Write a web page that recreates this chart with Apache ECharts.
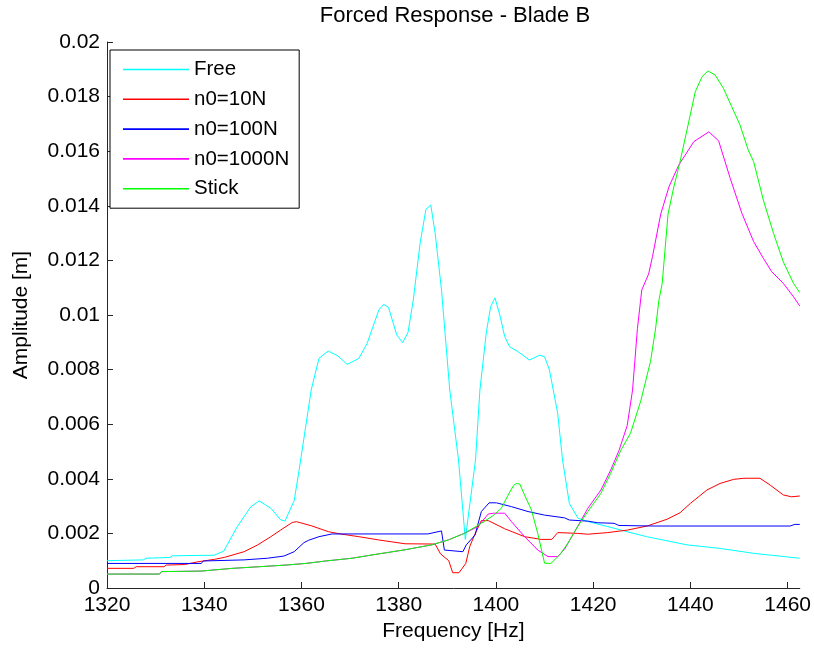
<!DOCTYPE html>
<html>
<head>
<meta charset="utf-8">
<title>Forced Response - Blade B</title>
<script src="https://cdn.jsdelivr.net/npm/echarts@6/dist/echarts.min.js"></script>
<style>
  html, body { margin: 0; padding: 0; background: #fff; }
  #chart { width: 814px; height: 648px; }
</style>
</head>
<body>
<div id="chart"></div>
<script>
// Frequency sweep of blade B: amplitude [m] against excitation frequency [Hz]
const xTicks = [1320, 1340, 1360, 1380, 1400, 1420, 1440, 1460];
const yTicks = [0, 0.002, 0.004, 0.006, 0.008, 0.01, 0.012, 0.014, 0.016, 0.018, 0.02];
const seriesNames = ['Free', 'n0=10N', 'n0=100N', 'n0=1000N', 'Stick'];
const seriesColors = ['#00ffff', '#ff0000', '#0000ff', '#ff00ff', '#00ff00'];

const freeResp = [
  [1320, 0.00100], [1327.5, 0.00103], [1328, 0.00109], [1333, 0.00112], [1333.5, 0.00118],
  [1342, 0.00120], [1344, 0.00135], [1346.8, 0.00225], [1349.6, 0.00298], [1351.3, 0.00319],
  [1353.7, 0.00292], [1355.7, 0.00250], [1356.6, 0.00245], [1358.5, 0.00320], [1359.5, 0.00430],
  [1362, 0.00725], [1363.6, 0.00841], [1365.5, 0.00868], [1367.5, 0.00850], [1369.4, 0.00819],
  [1371.8, 0.00841], [1373.5, 0.00896], [1375.9, 0.01018], [1376.9, 0.01039], [1377.9, 0.01028],
  [1379.6, 0.00927], [1380.8, 0.00899], [1381.9, 0.00935], [1383.0, 0.01055], [1384.4, 0.01263],
  [1385.6, 0.01387], [1386.6, 0.01403], [1387.5, 0.01299], [1388.8, 0.01092], [1390.5, 0.00725],
  [1392.3, 0.00469], [1393.7, 0.00178], [1395.8, 0.00469], [1396.7, 0.00725], [1398.0, 0.00933],
  [1398.9, 0.01030], [1399.8, 0.01063], [1400.8, 0.01000], [1401.8, 0.00921], [1402.8, 0.00884],
  [1404.5, 0.00866], [1406.9, 0.00835], [1409.0, 0.00853], [1410.0, 0.00847], [1411.0, 0.00799],
  [1412.7, 0.00640], [1413.7, 0.00469], [1415.1, 0.00310], [1416.9, 0.00255], [1419, 0.00243],
  [1423, 0.00225], [1427, 0.00206], [1431, 0.00188], [1439.3, 0.00158], [1446.1, 0.00145],
  [1453, 0.00127], [1462.5, 0.00109]
];

const resp10N = [
  [1320, 0.00072], [1325.5, 0.00072], [1326, 0.00078], [1331.7, 0.00078], [1332.2, 0.00084],
  [1336, 0.00086], [1338.7, 0.00096], [1342.1, 0.00105], [1344.1, 0.00112], [1348.2, 0.00133],
  [1351.0, 0.00158], [1353.7, 0.00188], [1355.7, 0.00212], [1358.1, 0.00240], [1359.0, 0.00243],
  [1362, 0.00228], [1365.6, 0.00206], [1368, 0.00198], [1371.8, 0.00188], [1375.9, 0.00176],
  [1381.3, 0.00162], [1387.5, 0.00161], [1388.6, 0.00125], [1390.3, 0.00100], [1391.1, 0.00056],
  [1392.4, 0.00056], [1393.8, 0.00090], [1394.6, 0.00151], [1395.5, 0.00190], [1397.0, 0.00247],
  [1398.4, 0.00247], [1401.8, 0.00217], [1405.9, 0.00188], [1409.3, 0.00178], [1411.5, 0.00178],
  [1412.7, 0.00203], [1416.8, 0.00200], [1418.9, 0.00197], [1423, 0.00203], [1427, 0.00212],
  [1431.1, 0.00227], [1435.2, 0.00252], [1437.9, 0.00276], [1440, 0.00310], [1443.4, 0.00359],
  [1446.1, 0.00383], [1448.9, 0.00398], [1451, 0.00402], [1454.3, 0.00402], [1456.4, 0.00377],
  [1459.1, 0.00341], [1460.8, 0.00334], [1462.5, 0.00337]
];

const resp100N = [
  [1320, 0.00090], [1339.4, 0.00090], [1339.8, 0.00099], [1348.2, 0.00103], [1353, 0.00109],
  [1356.4, 0.00117], [1358.5, 0.00133], [1360.5, 0.00166], [1361.5, 0.00175], [1363.6, 0.00188],
  [1366.3, 0.00198], [1386, 0.00198], [1388.8, 0.00209], [1389.4, 0.00139], [1393.2, 0.00133],
  [1393.9, 0.00158], [1395.7, 0.00194], [1397.0, 0.00280], [1398.6, 0.00312], [1400.1, 0.00312],
  [1403.2, 0.00298], [1406.6, 0.00280], [1410.0, 0.00267], [1414.1, 0.00257], [1415.1, 0.00249],
  [1418.9, 0.00245], [1420.9, 0.00239], [1424.3, 0.00237], [1425.3, 0.00229], [1432.5, 0.00227],
  [1460.5, 0.00227], [1461.5, 0.00233], [1462.5, 0.00233]
];

const resp1000N = [
  [1320, 0.00051], [1330.8, 0.00051], [1331.2, 0.00060], [1339.4, 0.00062], [1339.8, 0.00067],
  [1345.8, 0.00072], [1351.3, 0.00078], [1356.8, 0.00084], [1360.9, 0.00090], [1365, 0.00099],
  [1370.4, 0.00109], [1374.5, 0.00121], [1381.3, 0.00140], [1386.8, 0.00158], [1390.2, 0.00176],
  [1393.6, 0.00201], [1396.3, 0.00225], [1398.4, 0.00271], [1399.5, 0.00274], [1401.8, 0.00274],
  [1403.2, 0.00243], [1405.9, 0.00188], [1408.6, 0.00139], [1410.7, 0.00115], [1412.7, 0.00115],
  [1414.1, 0.00142], [1416.8, 0.00225], [1418.9, 0.00292], [1421.6, 0.00359], [1423.6, 0.00432],
  [1425.3, 0.00503], [1427.0, 0.00595], [1428.1, 0.00725], [1429.1, 0.00950], [1430.0, 0.01092],
  [1431.4, 0.01150], [1432.2, 0.01214], [1433.9, 0.01370], [1435.6, 0.01470], [1437.6, 0.01549],
  [1440.7, 0.01635], [1443.8, 0.01671], [1445.8, 0.01638], [1448.2, 0.01500], [1450.6, 0.01372],
  [1453.0, 0.01269], [1455.0, 0.01208], [1456.7, 0.01159], [1459.1, 0.01116], [1461.2, 0.01067],
  [1462.5, 0.01033]
];

const respStick = [
  [1320, 0.00051], [1330.8, 0.00051], [1331.2, 0.00060], [1339.4, 0.00062], [1339.8, 0.00067],
  [1345.8, 0.00072], [1351.3, 0.00078], [1356.8, 0.00084], [1360.9, 0.00090], [1365, 0.00099],
  [1370.4, 0.00109], [1374.5, 0.00121], [1381.3, 0.00140], [1386.8, 0.00158], [1390.2, 0.00176],
  [1393.6, 0.00201], [1397.0, 0.00237], [1399.4, 0.00265], [1401.1, 0.00292], [1402.5, 0.00340],
  [1403.6, 0.00375], [1404.2, 0.00383], [1404.9, 0.00381], [1405.9, 0.00340], [1407.3, 0.00286],
  [1408.6, 0.00200], [1410.0, 0.00091], [1411.3, 0.00090], [1413.1, 0.00121], [1414.8, 0.00164],
  [1416.8, 0.00225], [1418.9, 0.00280], [1421.6, 0.00347], [1423.6, 0.00420], [1425.7, 0.00505],
  [1427.7, 0.00568], [1429.8, 0.00686], [1431.8, 0.00830], [1432.8, 0.00945], [1433.5, 0.01052],
  [1434.2, 0.01116], [1435.4, 0.01370], [1436.6, 0.01470], [1437.8, 0.01556], [1439.3, 0.01678],
  [1441.0, 0.01818], [1442.4, 0.01873], [1443.6, 0.01894], [1445.1, 0.01879], [1446.8, 0.01830],
  [1448.5, 0.01763], [1450.2, 0.01696], [1451.9, 0.01604], [1453.0, 0.01562], [1455.0, 0.01421],
  [1457.1, 0.01299], [1459.1, 0.01195], [1461.2, 0.01116], [1462.5, 0.01082]
];

const seriesData = [freeResp, resp10N, resp100N, resp1000N, respStick];

const FONT = '"Liberation Sans", Arial, Helvetica, sans-serif';
const INK = '#000';
const AXIS = '#262626';
// plain horizontal stroke used as the legend key
const LINE_KEY = 'path://M0,0L66,0L66,1.6L0,1.6Z';

const chart = echarts.init(document.getElementById('chart'), null, { renderer: 'canvas' });

chart.setOption({
  animation: false,
  backgroundColor: '#fff',
  textStyle: { fontFamily: FONT, color: INK },
  title: {
    text: 'Forced Response - Blade B',
    left: 455,
    textAlign: 'center',
    top: 5,
    padding: 0,
    textStyle: { fontFamily: FONT, fontSize: 22, fontWeight: 'normal', color: INK }
  },
  grid: { left: 107, right: 11, top: 42, bottom: 60, containLabel: false },
  legend: {
    orient: 'vertical',
    left: 110,
    top: 50,
    data: seriesNames.map((name, i) => ({ name, icon: LINE_KEY, itemStyle: { color: seriesColors[i] } })),
    itemWidth: 66,
    itemHeight: 14,
    itemGap: 8.8,
    padding: [9, 10, 9, 13],
    borderColor: '#000',
    borderWidth: 1,
    backgroundColor: '#fff',
    selectedMode: false,
    textStyle: { fontFamily: FONT, fontSize: 20.5, color: INK, lineHeight: 20 }
  },
  xAxis: {
    type: 'value',
    min: 1320,
    max: 1462.5,
    interval: 20,
    name: 'Frequency [Hz]',
    nameLocation: 'middle',
    nameGap: 33,
    nameTextStyle: { fontFamily: FONT, fontSize: 21, color: INK },
    axisLine: { show: true, onZero: false, lineStyle: { color: AXIS, width: 1 } },
    axisTick: { show: true, inside: true, length: 6, customValues: xTicks, lineStyle: { color: AXIS } },
    axisLabel: {
      customValues: xTicks,
      margin: 7,
      fontFamily: FONT,
      fontSize: 21,
      color: INK,
      formatter: v => String(v)
    },
    splitLine: { show: false }
  },
  yAxis: {
    type: 'value',
    min: 0,
    max: 0.02,
    interval: 0.002,
    name: 'Amplitude [m]',
    nameLocation: 'middle',
    nameGap: 75,
    nameTextStyle: { fontFamily: FONT, fontSize: 21, color: INK },
    axisLine: { show: true, onZero: false, lineStyle: { color: AXIS, width: 1 } },
    axisTick: { show: true, inside: true, length: 6, customValues: yTicks, lineStyle: { color: AXIS } },
    axisLabel: {
      customValues: yTicks,
      margin: 7,
      fontFamily: FONT,
      fontSize: 21,
      color: INK,
      formatter: v => String(parseFloat(Number(v).toFixed(4)))
    },
    splitLine: { show: false }
  },
  series: seriesNames.map((name, i) => ({
    name,
    type: 'line',
    data: seriesData[i],
    symbol: 'none',
    smooth: false,
    clip: true,
    lineStyle: { color: seriesColors[i], width: 1 },
    itemStyle: { color: seriesColors[i] },
    emphasis: { disabled: true },
    z: 2 + i
  }))
});
</script>
</body>
</html>
